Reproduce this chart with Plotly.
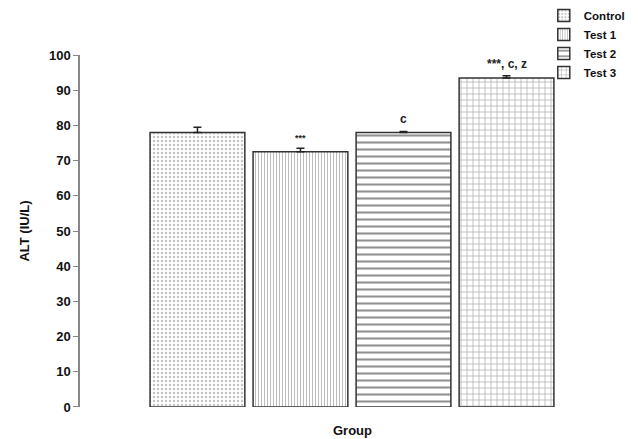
import plotly.graph_objects as go

groups = ["Control", "Test 1", "Test 2", "Test 3"]
alt_values = [78.0, 72.5, 78.0, 93.5]
alt_errors = [1.5, 1.0, 0.3, 0.6]
sig_labels = ["", "***", "c", "***, c, z"]
y_ticks = [0, 10, 20, 30, 40, 50, 60, 70, 80, 90, 100]

FONT = "Liberation Sans, Arial"

patterns = [
    dict(shape=".", fgcolor="#888888", bgcolor="white", size=4, solidity=0.3),
    dict(shape="|", fgcolor="#777777", bgcolor="white", size=3, solidity=0.35),
    dict(shape="-", fgcolor="#222222", bgcolor="white", size=7, solidity=0.3),
    dict(shape="+", fgcolor="#666666", bgcolor="white", size=6, solidity=0.25),
]

fig = go.Figure()
for i, g in enumerate(groups):
    fig.add_trace(go.Bar(
        x=[g], y=[alt_values[i]], name=g, width=0.92,
        marker=dict(color="white", line=dict(color="#333333", width=1.5),
                    pattern=patterns[i]),
        error_y=dict(type="data", symmetric=False, array=[alt_errors[i]],
                     arrayminus=[0], color="#222222", thickness=1.5, width=4),
    ))
    if sig_labels[i]:
        fig.add_annotation(x=g, y=alt_values[i] + alt_errors[i], text=sig_labels[i],
                           showarrow=False, yanchor="bottom", yshift=3,
                           font=dict(family=FONT, size=12 if i != 1 else 9,
                                     color="#222222", weight="bold"))

fig.update_layout(
    width=638, height=439,
    margin=dict(l=80, r=13, t=5, b=32, autoexpand=False),
    paper_bgcolor="white", plot_bgcolor="white",
    barmode="overlay",
    font=dict(family=FONT, color="#111111"),
    showlegend=True,
    legend=dict(x=0.851, y=1.01, xanchor="left", yanchor="top",
                font=dict(size=11.5, family=FONT, weight="bold"),
                itemwidth=30, tracegroupgap=0, bgcolor="rgba(0,0,0,0)"),
    xaxis=dict(type="category", range=[-1.14, 4.15], showticklabels=False,
               showline=False, showgrid=False, zeroline=False, ticks="",
               automargin=False,
               title=dict(text="Group", font=dict(size=13, weight="bold"), standoff=18)),
    yaxis=dict(range=[0, 100], domain=[0, 0.8756], tickvals=y_ticks,
               showgrid=False, zeroline=False, automargin=False,
               showline=True, linecolor="#888888", linewidth=1.5,
               ticks="outside", ticklen=5, tickcolor="#888888",
               tickfont=dict(size=13, family=FONT, weight="bold"),
               title=dict(text="ALT (IU/L)", font=dict(size=13, weight="bold"), standoff=16)),
)

fig.write_html("out.html", config={"displayModeBar": False},
               post_script="document.body.style.margin='0';")
